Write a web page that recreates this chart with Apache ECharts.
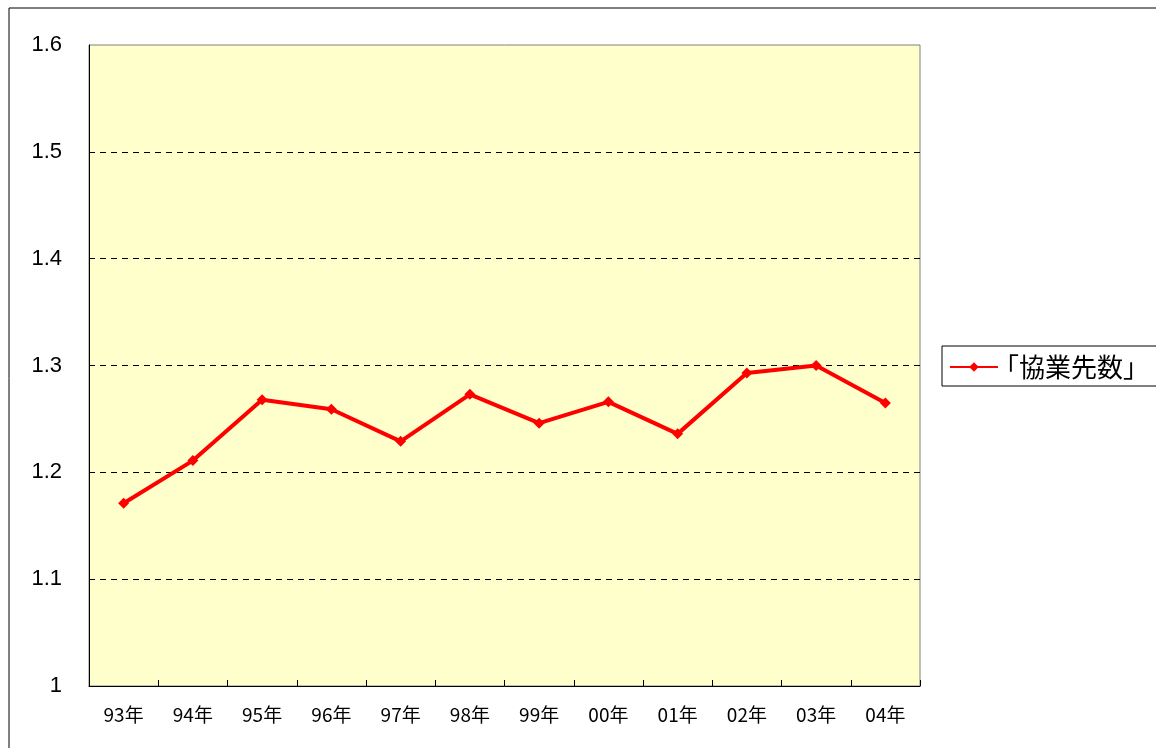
<!DOCTYPE html>
<html>
<head>
<meta charset="utf-8">
<script src="https://cdn.jsdelivr.net/npm/echarts@6/dist/echarts.min.js"></script>
<style>html,body{margin:0;padding:0;background:#fff;}#c{width:1156px;height:748px;}</style>
</head>
<body>
<div id="c"></div>
<script>
const categories = ['93年','94年','95年','96年','97年','98年','99年','00年','01年','02年','03年','04年'];
const seriesName = '「協業先数」';
const values = [1.171, 1.211, 1.268, 1.259, 1.229, 1.273, 1.246, 1.266, 1.236, 1.293, 1.300, 1.265];
const yMin = 1, yMax = 1.6, yStep = 0.1;

const chart = echarts.init(document.getElementById('c'), null, {renderer: 'canvas'});
chart.setOption({
  animation: false,
  backgroundColor: '#ffffff',
  graphic: [{
    type: 'rect', left: 6.5, top: 5.5, z: -10, silent: true,
    shape: {width: 1160, height: 760},
    style: {fill: 'none', stroke: '#000', lineWidth: 1}
  }, {
    type: 'rect', left: 941.5, top: 345.5, z: 1, silent: true,
    shape: {width: 230, height: 40},
    style: {fill: '#fff', stroke: '#000', lineWidth: 1}
  }],
  grid: {
    left: 89, top: 45, right: 236, bottom: 62,
    show: true, backgroundColor: '#FFFFCC', borderColor: '#808080', borderWidth: 1
  },
  legend: {
    left: 949, top: 354,
    data: [seriesName],
    itemWidth: 48, itemHeight: 12,
    padding: 0,
    z: 5,
    textStyle: {fontFamily: 'Noto Sans CJK JP', fontSize: 26, color: '#000', padding: [0, 0, 0, -10]}
  },
  xAxis: {
    type: 'category',
    data: categories,
    boundaryGap: true,
    axisLine: {show: true, lineStyle: {color: '#000', width: 1}},
    axisTick: {show: true, inside: true, length: 6, lineStyle: {color: '#000'}},
    axisLabel: {fontFamily: 'Noto Sans CJK JP', fontSize: 19, color: '#000', margin: 19},
    splitLine: {show: false}
  },
  yAxis: {
    type: 'value', min: yMin, max: yMax, interval: yStep,
    axisLine: {show: true, lineStyle: {color: '#000', width: 1}},
    axisTick: {show: false},
    axisLabel: {fontFamily: 'Liberation Sans', fontSize: 22, color: '#000', margin: 27,
      formatter: v => String(Math.round(v * 10) / 10)},
    splitLine: {show: true, showMaxLine: false, lineStyle: {color: '#000', type: [6, 5], width: 1}}
  },
  series: [{
    name: seriesName,
    type: 'line',
    data: values,
    symbol: 'diamond',
    symbolSize: 11,
    itemStyle: {color: '#FF0000'},
    lineStyle: {color: '#FF0000', width: 4}
  }]
});
</script>
</body>
</html>
